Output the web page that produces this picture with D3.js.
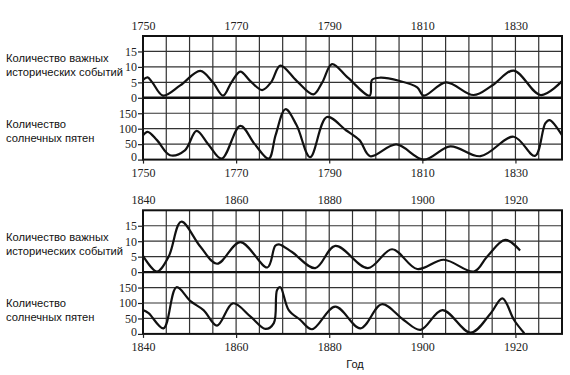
<!DOCTYPE html>
<html>
<head>
<meta charset="utf-8">
<script src="https://cdn.jsdelivr.net/npm/d3@7"></script>
<style>
  body { margin: 0; background: #fff; }
  .lbl { font-family: "Liberation Sans", Arial, sans-serif; font-size: 11.2px; fill: #111; }
</style>
</head>
<body>
<svg id="chart" width="570" height="375"></svg>
<script>
// --- data ---
var eventYearsA = [1750, 1751, 1752, 1754.3, 1758, 1762.3, 1765, 1767.2, 1769, 1770.9, 1773, 1775.6, 1777.5, 1779.5,
    1783, 1786.6, 1788.5, 1790.6, 1794, 1798.7, 1799.2, 1801, 1805, 1808.9, 1810.3, 1815.1, 1821, 1825, 1829.6, 1835.4, 1840];
var eventValuesA = [5.8, 6.6, 5, 0.7, 4, 8.7, 5, 0.7, 5, 8.5, 5.5, 2.5, 5, 10.4,
    5.5, 1.1, 5, 10.9, 6.5, 0.7, 5.8, 6.5, 5.5, 3.4, 0.7, 5, 0.9, 4, 8.8, 0.9, 5.4];

var spotYearsA = [1750, 1751, 1753, 1755.8, 1759, 1761.5, 1764, 1766.9, 1770.9, 1774, 1777, 1778.5, 1780.6, 1783,
    1785.9, 1789.5, 1793.6, 1796.5, 1798.8, 1804.4, 1810.3, 1816, 1822.5, 1829.6, 1834.2, 1836.4, 1837.3, 1840];
var spotValuesA = [79, 90, 63, 14, 30, 93, 50, 3, 109, 50, 3, 80, 163, 111,
    8, 138, 95, 63, 11, 49, 0, 43, 11, 74, 12, 117, 128, 79];

var eventYearsB = [1840, 1843, 1845.5, 1848.2, 1852.3, 1855.9, 1860.9, 1866.7, 1868.4, 1869.2, 1872, 1877, 1881.3,
    1888.3, 1893.5, 1898.9, 1904.6, 1911.1, 1913.9, 1917.8, 1921];
var eventValuesB = [5.3, 0.2, 5, 16.3, 8.3, 2.7, 9.7, 1.5, 8.5, 9, 6.5, 1.3, 8.5,
    1.3, 7.4, 1, 4, 0.2, 5, 10.4, 7];

var spotYearsB = [1840, 1841.2, 1844.4, 1847.2, 1850.2, 1853, 1855.9, 1859.3, 1863.1, 1866.3, 1868.1, 1868.8, 1869.5,
    1871.3, 1873.8, 1876.3, 1881.3, 1886.7, 1891.3, 1896, 1899.6, 1904.3, 1910.4, 1914.7, 1917.2, 1919.7, 1921.9];
var spotValuesB = [77, 67, 18, 151, 106, 77, 27, 99, 56, 16, 35, 142, 151,
    77, 45, 15, 88, 18, 96, 45, 13, 77, 4, 67, 115, 45, 2];

var yearLabelsA = [1750, 1770, 1790, 1810, 1830];
var yearLabelsB = [1840, 1860, 1880, 1900, 1920];
var eventTicks = [0, 5, 10, 15];
var spotTicks = [0, 50, 100, 150];

var eventsLabel = ["Количество важных", "исторических событий"];
var spotsLabel = ["Количество", "солнечных пятен"];

var svg = d3.select("#chart"),
    left = 143,
    right = 562,
    half = 61.8,
    serif = "'Liberation Serif', 'DejaVu Serif', serif";

function zipSeries(xs, ys) {
    return xs.map(function(x, i) { return [x, ys[i]]; });
}

function drawLabel(lines, y) {
    var t = svg.append("text").attr("class", "lbl").attr("x", 6).attr("y", y);
    lines.forEach(function(s, i) {
        t.append("tspan").attr("x", 6).attr("dy", i === 0 ? 0 : 14).text(s);
    });
}

function styleAxis(sel) {
    sel.attr("font-family", serif).attr("font-size", 12);
    sel.select(".domain").remove();
    sel.selectAll(".tick text").attr("fill", "#222");
    sel.selectAll(".tick line").attr("stroke", "#222").attr("stroke-width", 1.2);
}

function drawPanel(top, domain, labels, evX, evY, spX, spY, labelYs) {
    var x = d3.scaleLinear().domain(domain).range([left, right]),
        yEv = d3.scaleLinear().domain([0, 20]).range([top + half, top]),
        ySp = d3.scaleLinear().domain([0, 200]).range([top + 2 * half, top + half]);

    var g = svg.append("g");

    // vertical grid every 5 years
    g.selectAll(".vg").data(d3.range(domain[0] + 5, domain[1], 5)).enter()
        .append("line")
            .attr("x1", function(d) { return x(d); })
            .attr("x2", function(d) { return x(d); })
            .attr("y1", top)
            .attr("y2", top + 2 * half)
            .attr("stroke", "#333")
            .attr("stroke-width", 1.2);

    // horizontal grid
    g.selectAll(".hg1").data([5, 10, 15]).enter()
        .append("line")
            .attr("x1", left).attr("x2", right)
            .attr("y1", function(d) { return yEv(d); })
            .attr("y2", function(d) { return yEv(d); })
            .attr("stroke", "#333").attr("stroke-width", 1.2);
    g.selectAll(".hg2").data([50, 100, 150]).enter()
        .append("line")
            .attr("x1", left).attr("x2", right)
            .attr("y1", function(d) { return ySp(d); })
            .attr("y2", function(d) { return ySp(d); })
            .attr("stroke", "#333").attr("stroke-width", 1.2);

    // frame + middle divider
    g.append("rect")
        .attr("x", left).attr("y", top)
        .attr("width", right - left).attr("height", 2 * half)
        .attr("fill", "none").attr("stroke", "#111").attr("stroke-width", 2);
    g.append("line")
        .attr("x1", left).attr("x2", right)
        .attr("y1", yEv(0)).attr("y2", yEv(0))
        .attr("stroke", "#111").attr("stroke-width", 2.4);

    // axes
    var fmt = d3.format("d");
    g.append("g").attr("transform", "translate(0," + top + ")")
        .call(d3.axisTop(x).tickValues(labels).tickFormat(fmt).tickSize(0).tickPadding(6))
        .call(styleAxis);
    g.append("g").attr("transform", "translate(0," + (top + 2 * half) + ")")
        .call(d3.axisBottom(x).tickValues(labels).tickFormat(fmt).tickSize(4).tickPadding(5))
        .call(styleAxis);
    g.append("g").attr("transform", "translate(" + left + ",0)")
        .call(d3.axisLeft(yEv).tickValues(eventTicks).tickSize(5).tickPadding(1))
        .call(styleAxis);
    g.append("g").attr("transform", "translate(" + left + ",0)")
        .call(d3.axisLeft(ySp).tickValues(spotTicks).tickSize(5).tickPadding(1))
        .call(styleAxis)
        .call(function(a) {
            // lift the bottom "0" a little so it clears the year label below
            a.selectAll(".tick text").filter(function(d) { return d === 0; }).attr("dy", "0.1em");
        });

    // curves
    var lineEv = d3.line()
        .x(function(d) { return x(d[0]); })
        .y(function(d) { return yEv(d[1]); })
        .curve(d3.curveCatmullRom.alpha(0.5));
    var lineSp = d3.line()
        .x(function(d) { return x(d[0]); })
        .y(function(d) { return ySp(d[1]); })
        .curve(d3.curveCatmullRom.alpha(0.5));

    g.append("path").datum(zipSeries(evX, evY))
        .attr("d", lineEv).attr("fill", "none")
        .attr("stroke", "#111").attr("stroke-width", 2.2);
    g.append("path").datum(zipSeries(spX, spY))
        .attr("d", lineSp).attr("fill", "none")
        .attr("stroke", "#111").attr("stroke-width", 2.2);

    drawLabel(eventsLabel, labelYs[0]);
    drawLabel(spotsLabel, labelYs[1]);
}

drawPanel(36, [1750, 1840], yearLabelsA, eventYearsA, eventValuesA, spotYearsA, spotValuesA, [62, 128]);
drawPanel(210.3, [1840, 1930], yearLabelsB, eventYearsB, eventValuesB, spotYearsB, spotValuesB, [241, 307]);

svg.append("text").attr("class", "lbl")
    .attr("x", 355).attr("y", 368)
    .attr("text-anchor", "middle")
    .style("font-size", "11px")
    .text("Год");
</script>
</body>
</html>
